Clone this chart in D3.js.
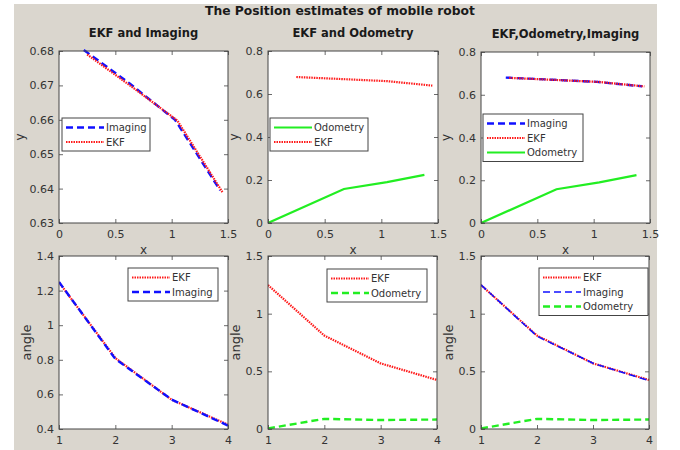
<!DOCTYPE html>
<html><head><meta charset="utf-8">
<script src="https://cdn.jsdelivr.net/npm/d3@7"></script>
<style>body{margin:0;background:#fff}svg{display:block}text{font-family:"DejaVu Sans",sans-serif}</style>
</head><body><svg id="c" width="680" height="450"></svg>
<script>
// ---- data ----
const posImagingX = [0.22, 0.63, 1.03, 1.43];
const posImagingY = [0.6803, 0.6705, 0.6600, 0.6395];
const posEkfX = [0.25, 0.65, 1.05, 1.45];
const posEkfY = [0.6790, 0.6695, 0.6598, 0.6390];
const posOdoX = [0, 0.67, 1.05, 1.38];
const posOdoY = [0, 0.158, 0.19, 0.224];
const steps = [1, 2, 3, 4];
const angEkf = [1.248, 0.81, 0.569, 0.425];
const angImaging = [1.25, 0.805, 0.57, 0.42];
const angOdo = [0.005, 0.088, 0.078, 0.082];
const xTicksPos = [0, 0.5, 1, 1.5];
const yTicks1 = [0.63, 0.64, 0.65, 0.66, 0.67, 0.68];
const yTicks2 = [0, 0.2, 0.4, 0.6, 0.8];
const xTicksAng = [1, 2, 3, 4];
const yTicksAng1 = [0.4, 0.6, 0.8, 1, 1.2, 1.4];
const yTicksAng2 = [0, 0.5, 1, 1.5];

const svg = d3.select("#c");
svg.append("rect").attr("x",14).attr("y",4).attr("width",643).attr("height",446).attr("fill","#dad6ce");
svg.append("text").attr("x",340).attr("y",15).attr("text-anchor","middle").attr("font-size",12.3).attr("font-weight","bold").attr("fill","#1a1a1a").text("The Position estimates of mobile robot");

const styles = {
  imaging:{stroke:"#1010ff", dash:"7,4", w:2.4},
  imagingThin:{stroke:"#1010ff", dash:"7,4", w:1.6},
  ekf:{stroke:"#ff1a1a", dash:"1.5,1", w:2.2},
  odo:{stroke:"#22ee22", dash:null, w:2.2},
  odoDash:{stroke:"#22ee22", dash:"7,4", w:2.4}
};

function panel(o){
  const g = svg.append("g");
  const x = d3.scaleLinear().domain(o.xd).range([o.l,o.r]);
  const y = d3.scaleLinear().domain(o.yd).range([o.b,o.t]);
  g.append("rect").attr("x",o.l).attr("y",o.t).attr("width",o.r-o.l).attr("height",o.b-o.t).attr("fill","#fff");
  if(o.title) g.append("text").attr("x",(o.l+o.r)/2).attr("y",o.t-14).attr("text-anchor","middle").attr("font-size",11.5).attr("font-weight","bold").attr("fill","#1a1a1a").text(o.title);
  const clip = "clip"+Math.round(o.l)+"_"+Math.round(o.t);
  g.append("clipPath").attr("id",clip).append("rect").attr("x",o.l).attr("y",o.t-2).attr("width",o.r-o.l+2).attr("height",o.b-o.t+4);
  o.series.forEach(s=>{
    const st = styles[s.style];
    const line = d3.line().x(d=>x(d[0])).y(d=>y(d[1]));
    g.append("path").attr("d",line(s.xs.map((v,i)=>[v,s.ys[i]]))).attr("fill","none")
      .attr("stroke",st.stroke).attr("stroke-width",st.w).attr("stroke-dasharray",st.dash).attr("clip-path","url(#"+clip+")");
  });
  const tk = 4;
  const ax = g.append("g").attr("transform",`translate(0,${o.b})`).call(d3.axisBottom(x).tickValues(o.xt).tickSize(-tk).tickFormat(d3.format("~g")));
  const ay = g.append("g").attr("transform",`translate(${o.l},0)`).call(d3.axisLeft(y).tickValues(o.yt).tickSize(-tk).tickFormat(d3.format("~g")));
  g.append("g").attr("transform",`translate(0,${o.t})`).call(d3.axisTop(x).tickValues(o.xt).tickSize(-tk).tickFormat(""));
  g.append("g").attr("transform",`translate(${o.r},0)`).call(d3.axisRight(y).tickValues(o.yt).tickSize(-tk).tickFormat(""));
  g.selectAll(".domain").remove();
  g.selectAll(".tick line").attr("stroke","#444").attr("stroke-width",0.8);
  ax.selectAll("text").attr("font-size",11).attr("fill","#333").attr("dy","0.71em").attr("y",7).attr("font-family","DejaVu Sans");
  ay.selectAll("text").attr("font-size",11).attr("fill","#333").attr("x",-5).attr("font-family","DejaVu Sans");
  g.append("rect").attr("x",o.l).attr("y",o.t).attr("width",o.r-o.l).attr("height",o.b-o.t).attr("fill","none").attr("stroke","#444").attr("stroke-width",1);
  if(o.xlabel) g.append("text").attr("x",(o.l+o.r)/2).attr("y",o.b+31).attr("text-anchor","middle").attr("font-size",12).attr("fill","#333").text(o.xlabel);
  g.append("text").attr("transform",`translate(${o.ylx},${(o.t+o.b)/2}) rotate(-90)`).attr("text-anchor","middle").attr("font-size",o.ylfs).attr("fill","#333").text(o.ylabel);
  const L = o.leg;
  g.append("rect").attr("x",L.x).attr("y",L.y).attr("width",L.w).attr("height",L.items.length*14.5+4).attr("fill","#fff").attr("stroke","#444").attr("stroke-width",1);
  L.items.forEach((it,i)=>{
    const st = styles[it.style];
    const yy = L.y+9.5+i*14.5;
    g.append("line").attr("x1",L.x+4).attr("x2",L.x+4+L.sw).attr("y1",yy).attr("y2",yy).attr("stroke",st.stroke).attr("stroke-width",st.w).attr("stroke-dasharray",st.dash);
    g.append("text").attr("x",L.x+6+L.sw).attr("y",yy).attr("dy","0.35em").attr("font-size",10).attr("fill","#333").text(it.label);
  });
}

panel({l:59,r:228,t:51,b:223,xd:[0,1.5],yd:[0.63,0.68],xt:xTicksPos,yt:yTicks1,title:"EKF and Imaging",xlabel:"x",ylabel:"y",ylx:24,ylfs:12,
  series:[{xs:posImagingX,ys:posImagingY,style:"imaging"},{xs:posEkfX,ys:posEkfY,style:"ekf"}],
  leg:{x:62,y:118,w:88,sw:38,items:[{label:"Imaging",style:"imaging"},{label:"EKF",style:"ekf"}]}});
panel({l:268,r:438,t:51,b:223,xd:[0,1.5],yd:[0,0.8],xt:xTicksPos,yt:yTicks2,title:"EKF and Odometry",xlabel:"x",ylabel:"y",ylx:238,ylfs:12,
  series:[{xs:posOdoX,ys:posOdoY,style:"odo"},{xs:posEkfX,ys:posEkfY,style:"ekf"}],
  leg:{x:270,y:118,w:98,sw:38,items:[{label:"Odometry",style:"odo"},{label:"EKF",style:"ekf"}]}});
panel({l:481,r:650,t:52,b:223,xd:[0,1.5],yd:[0,0.8],xt:xTicksPos,yt:yTicks2,title:"EKF,Odometry,Imaging",xlabel:"x",ylabel:"y",ylx:450,ylfs:12,
  series:[{xs:posImagingX,ys:posImagingY,style:"imaging"},{xs:posEkfX,ys:posEkfY,style:"ekf"},{xs:posOdoX,ys:posOdoY,style:"odo"}],
  leg:{x:483,y:114,w:100,sw:38,items:[{label:"Imaging",style:"imaging"},{label:"EKF",style:"ekf"},{label:"Odometry",style:"odo"}]}});
panel({l:59,r:228,t:256,b:429,xd:[1,4],yd:[0.4,1.4],xt:xTicksAng,yt:yTicksAng1,ylabel:"angle",ylx:31,ylfs:13,
  series:[{xs:steps,ys:angEkf,style:"ekf"},{xs:steps,ys:angImaging,style:"imaging"}],
  leg:{x:128,y:268,w:90,sw:38,items:[{label:"EKF",style:"ekf"},{label:"Imaging",style:"imaging"}]}});
panel({l:268,r:437,t:256,b:429,xd:[1,4],yd:[0,1.5],xt:xTicksAng,yt:yTicksAng2,ylabel:"angle",ylx:240,ylfs:13,
  series:[{xs:steps,ys:angEkf,style:"ekf"},{xs:steps,ys:angOdo,style:"odoDash"}],
  leg:{x:327,y:269,w:100,sw:38,items:[{label:"EKF",style:"ekf"},{label:"Odometry",style:"odoDash"}]}});
panel({l:481,r:649,t:256,b:429,xd:[1,4],yd:[0,1.5],xt:xTicksAng,yt:yTicksAng2,ylabel:"angle",ylx:453,ylfs:13,
  series:[{xs:steps,ys:angEkf,style:"ekf"},{xs:steps,ys:angImaging,style:"imagingThin"},{xs:steps,ys:angOdo,style:"odoDash"}],
  leg:{x:539,y:268,w:109,sw:38,items:[{label:"EKF",style:"ekf"},{label:"Imaging",style:"imagingThin"},{label:"Odometry",style:"odoDash"}]}});
</script></body></html>
